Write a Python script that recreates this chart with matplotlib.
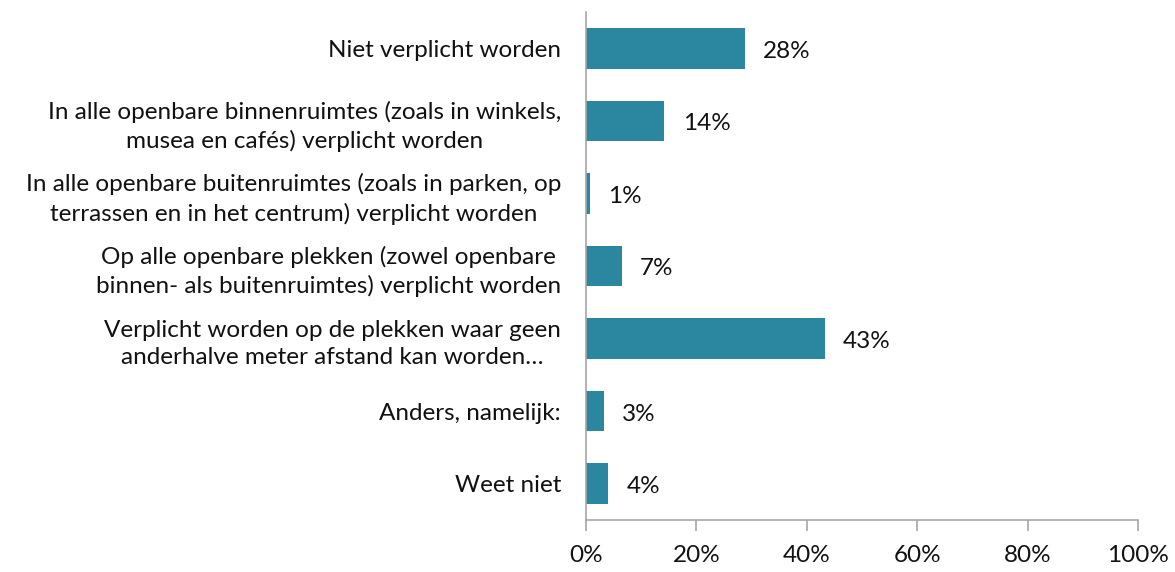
import matplotlib.pyplot as plt
from matplotlib.ticker import FuncFormatter

plt.rcParams["font.family"] = ["Lato", "DejaVu Sans"]

categories = [
    "Niet verplicht worden",
    "In alle openbare binnenruimtes (zoals in winkels,\nmusea en cafés) verplicht worden",
    "In alle openbare buitenruimtes (zoals in parken, op\nterrassen en in het centrum) verplicht worden",
    "Op alle openbare plekken (zowel openbare\nbinnen- als buitenruimtes) verplicht worden",
    "Verplicht worden op de plekken waar geen\nanderhalve meter afstand kan worden…",
    "Anders, namelijk:",
    "Weet niet",
]
values = [28.8, 14.2, 0.7, 6.5, 43.3, 3.3, 4.0]
value_labels = ["28%", "14%", "1%", "7%", "43%", "3%", "4%"]
x_ticks = [0, 20, 40, 60, 80, 100]

fig = plt.figure(figsize=(11.75, 5.72), dpi=100)
ax = fig.add_axes([0.4987, 0.091, 0.4698, 0.888])

positions = list(range(len(categories)))
ax.barh(positions, values, height=0.56, color="#2b879f")
ax.set_ylim(len(categories) - 0.5, -0.5)
ax.set_xlim(0, 100)

for pos, val, lab in zip(positions, values, value_labels):
    ax.text(val + 3.3, pos + 0.04, lab, va="center", ha="left", fontsize=17.5, color="#111111")

ax.set_yticks(positions)
ax.set_yticklabels(categories, fontsize=17.5, color="#111111", ha="right",
                   multialignment="center", linespacing=1.4)
ax.tick_params(axis="y", length=0, pad=18)
ax.set_xticks(x_ticks)
ax.xaxis.set_major_formatter(FuncFormatter(lambda v, _: f"{v:.0f}%"))
ax.tick_params(axis="x", direction="out", length=8, width=1.2, color="#a6a6a6",
               labelsize=17.5, labelcolor="#111111", pad=10)

for side in ["top", "right"]:
    ax.spines[side].set_visible(False)
for side in ["left", "bottom"]:
    ax.spines[side].set_color("#a6a6a6")
    ax.spines[side].set_linewidth(1.2)

fig.savefig("out.png")
